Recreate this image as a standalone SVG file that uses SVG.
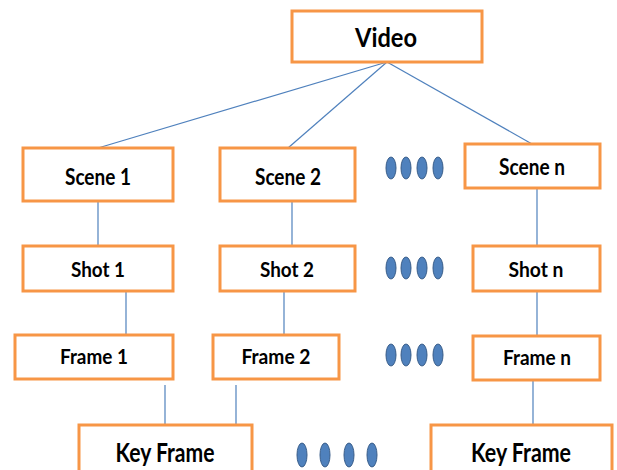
<svg xmlns="http://www.w3.org/2000/svg" width="617" height="470" viewBox="0 0 617 470">
<style>
.box{fill:#fff;stroke:#F79646;stroke-width:3}
.lbl{font-family:Lato,"Liberation Sans",sans-serif;font-weight:700;font-size:22px;fill:#000;text-anchor:middle}
.v{font-size:26px}
.sh{font-size:21px}
.fr{font-size:20.5px}
.kf{font-size:27px}
.con line{stroke:#4F81BD;stroke-width:1.2}
.dot{fill:#4F81BD;stroke:#385D8A;stroke-width:1}
</style>
<rect width="617" height="470" fill="#fff"/>
<g class="con">
<line x1="387" y1="62" x2="98" y2="148"/>
<line x1="387" y1="62" x2="288" y2="148"/>
<line x1="387" y1="62" x2="532" y2="144"/>
<line x1="98" y1="201" x2="98" y2="246"/>
<line x1="292" y1="201" x2="292" y2="246"/>
<line x1="537" y1="188" x2="537" y2="246"/>
<line x1="126" y1="291" x2="126" y2="335"/>
<line x1="284" y1="291" x2="284" y2="335"/>
<line x1="537" y1="291" x2="537" y2="336"/>
<line x1="165" y1="385" x2="165" y2="425"/>
<line x1="236" y1="385" x2="236" y2="425"/>
<line x1="533" y1="379" x2="533" y2="425"/>
</g>
<g id="video"><rect class="box" x="292" y="11" width="190" height="51"/><text class="lbl v" x="386" y="47" textLength="62" lengthAdjust="spacingAndGlyphs">Video</text></g>
<g id="scene1"><rect class="box" x="23" y="148" width="150" height="53"/><text class="lbl" x="98" y="185" textLength="66" lengthAdjust="spacingAndGlyphs">Scene 1</text></g>
<g id="scene2"><rect class="box" x="220" y="148" width="135" height="53"/><text class="lbl" x="288" y="185" textLength="66" lengthAdjust="spacingAndGlyphs">Scene 2</text></g>
<g id="scenen"><rect class="box" x="465" y="144" width="135" height="44"/><text class="lbl" x="532" y="175" textLength="66" lengthAdjust="spacingAndGlyphs">Scene n</text></g>
<g id="shot1"><rect class="box" x="23" y="246" width="150" height="45"/><text class="lbl sh" x="98" y="277" textLength="54" lengthAdjust="spacingAndGlyphs">Shot 1</text></g>
<g id="shot2"><rect class="box" x="220" y="246" width="135" height="45"/><text class="lbl sh" x="287" y="277" textLength="54" lengthAdjust="spacingAndGlyphs">Shot 2</text></g>
<g id="shotn"><rect class="box" x="473" y="246" width="127" height="45"/><text class="lbl sh" x="536" y="277" textLength="55" lengthAdjust="spacingAndGlyphs">Shot n</text></g>
<g id="frame1"><rect class="box" x="15" y="335" width="158" height="44"/><text class="lbl fr" x="94" y="364" textLength="68" lengthAdjust="spacingAndGlyphs">Frame 1</text></g>
<g id="frame2"><rect class="box" x="213" y="335" width="126" height="44"/><text class="lbl fr" x="276" y="364" textLength="69" lengthAdjust="spacingAndGlyphs">Frame 2</text></g>
<g id="framen"><rect class="box" x="473" y="336" width="127" height="44"/><text class="lbl fr" x="537" y="365" textLength="68" lengthAdjust="spacingAndGlyphs">Frame n</text></g>
<g id="keyframe1"><rect class="box" x="79" y="425" width="173" height="50"/><text class="lbl kf" x="165" y="462" textLength="99" lengthAdjust="spacingAndGlyphs">Key Frame</text></g>
<g id="keyframen"><rect class="box" x="431" y="425" width="181" height="50"/><text class="lbl kf" x="521" y="462" textLength="100" lengthAdjust="spacingAndGlyphs">Key Frame</text></g>
<g id="dots1"><ellipse class="dot" cx="391" cy="168" rx="5" ry="11"/><ellipse class="dot" cx="406" cy="168" rx="5" ry="11"/><ellipse class="dot" cx="422" cy="168" rx="5" ry="11"/><ellipse class="dot" cx="438" cy="168" rx="5" ry="11"/></g>
<g id="dots2"><ellipse class="dot" cx="391" cy="268" rx="5" ry="11"/><ellipse class="dot" cx="406" cy="268" rx="5" ry="11"/><ellipse class="dot" cx="422" cy="268" rx="5" ry="11"/><ellipse class="dot" cx="438" cy="268" rx="5" ry="11"/></g>
<g id="dots3"><ellipse class="dot" cx="391" cy="355" rx="5" ry="11"/><ellipse class="dot" cx="406" cy="355" rx="5" ry="11"/><ellipse class="dot" cx="422" cy="355" rx="5" ry="11"/><ellipse class="dot" cx="438" cy="355" rx="5" ry="11"/></g>
<g id="dots4"><ellipse class="dot" cx="302" cy="455" rx="5" ry="12"/><ellipse class="dot" cx="325" cy="455" rx="5" ry="12"/><ellipse class="dot" cx="349" cy="455" rx="5" ry="12"/><ellipse class="dot" cx="372" cy="455" rx="5" ry="12"/></g>
</svg>
